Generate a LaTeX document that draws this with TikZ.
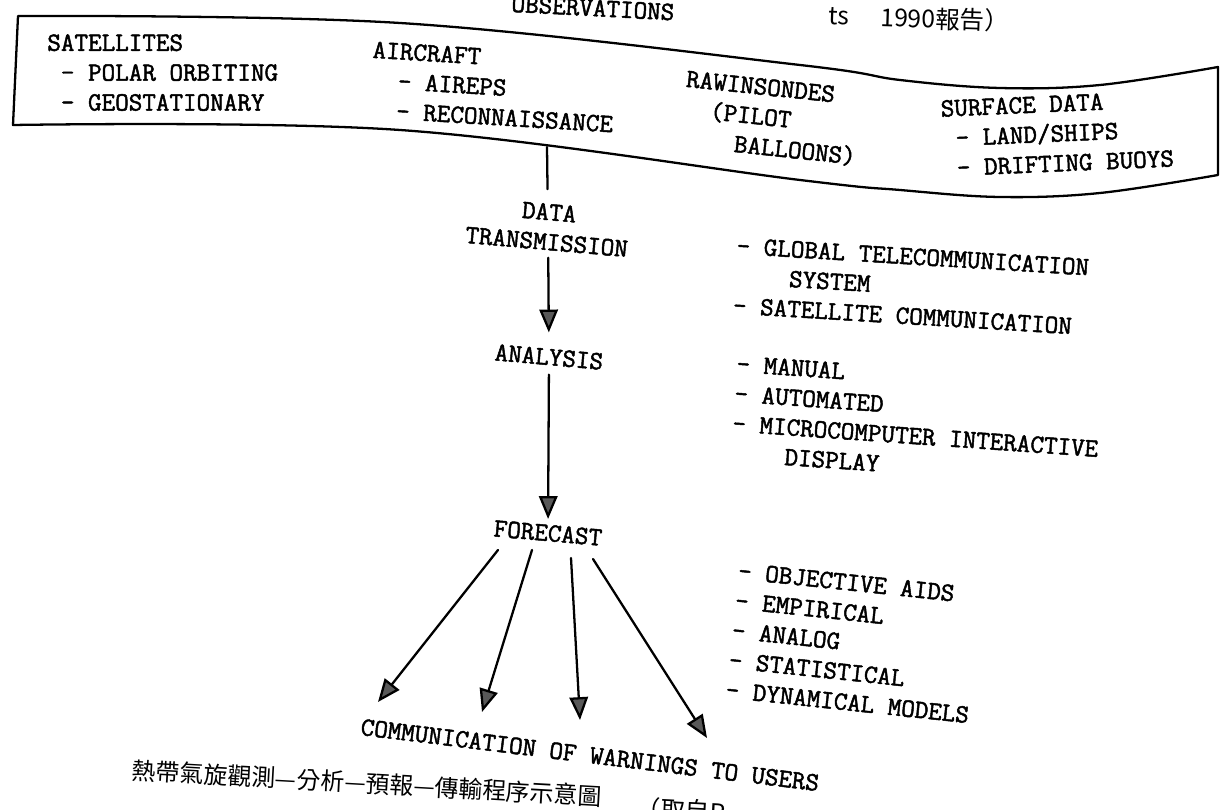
\documentclass[tikz,border=0pt]{standalone}
\usepackage{fontspec}
\newfontfamily\cjk{Noto Sans CJK TC}
\newfontfamily\typew{Latin Modern Mono}[FakeBold=1.8]
\usetikzlibrary{arrows.meta}
\newcommand\indentch{\phantom{0}}

\begin{document}
\begin{tikzpicture}[x=0.02cm,y=-0.02cm,line cap=round,line join=round,
  txt/.style={font=\fontsize{15}{17}\selectfont\typew,inner sep=0pt},
  group/.style={txt,align=left,anchor=north west},
  stage/.style={txt,align=center,rotate=-5},
  flow/.style={line width=1.3pt,-{Triangle[length=13pt,width=10.5pt,fill=black!65]}},
  cjktxt/.style={inner sep=0pt,anchor=west}]
  \useasboundingbox (0,0) rectangle (1220,810);
  \clip (0,0) rectangle (1220,810);
  \draw[line width=1.3pt] (18,16)
    -- plot[smooth,tension=0.6] coordinates {(13,125) (400,130) (800,180) (900,190) (1000,197) (1100,193) (1218,175)}
    -- plot[smooth,tension=0.6] coordinates {(1218,67) (1100,85) (1000,88) (900,80) (800,65) (400,23) (18,16)}
    -- cycle;
  \coordinate (boxlink) at (547,147);
  \node[txt,rotate=-3] (obs) at (593,8) {OBSERVATIONS};
  \node[cjktxt,rotate=-2,font=\fontsize{14}{16}\selectfont\cjk] (src) at (828,15) {ts\hspace{1.3em}1990報告）};
  \node[group] (sat) at (47,34) {SATELLITES\\\indentch- POLAR ORBITING\\\indentch- GEOSTATIONARY};
  \node[group,rotate=-3.5] (air) at (373,41) {AIRCRAFT\\\indentch\indentch- AIREPS\\\indentch\indentch- RECONNAISSANCE};
  \node[group,rotate=-6] (raw) at (687,70) {RAWINSONDES\\\indentch\indentch(PILOT\\\indentch\indentch\indentch\indentch BALLOONS)};
  \node[group,rotate=2.5] (surf) at (940,100) {SURFACE DATA\\\indentch- LAND/SHIPS\\\indentch- DRIFTING BUOYS};
  \node[stage] (trans) at (548,227) {DATA\\TRANSMISSION};
  \node[stage] (anal) at (549,357) {ANALYSIS};
  \node[stage] (fore) at (548,533) {FORECAST};
  \node[group,rotate=-3.5] (means) at (737,237) {- GLOBAL TELECOMMUNICATION\\\indentch\indentch\indentch\indentch SYSTEM\\- SATELLITE COMMUNICATION};
  \node[group,rotate=-4] (modes) at (737,355) {- MANUAL\\- AUTOMATED\\- MICROCOMPUTER INTERACTIVE\\\indentch\indentch\indentch\indentch DISPLAY};
  \node[group,rotate=-6] (aids) at (739,562) {- OBJECTIVE AIDS\\- EMPIRICAL\\- ANALOG\\- STATISTICAL\\- DYNAMICAL MODELS};
  \node[txt,rotate=-7] (comm) at (590,755) {COMMUNICATION OF WARNINGS TO USERS};
  \node[cjktxt,rotate=-3.2,font=\fontsize{13.6}{16}\selectfont\cjk] (cap) at (132,770) {熱帶氣旋觀測—分析—預報—傳輸程序示意圖};
  \node[cjktxt,rotate=-3,font=\fontsize{14}{16}\selectfont\cjk] (capsrc) at (636,808) {（取自R};
  \draw[line width=1.3pt,shorten >=8pt] (boxlink) -- (trans);
  \draw[flow,shorten <=4pt,shorten >=9pt] (trans) -- (anal);
  \draw[flow,shorten <=5pt,shorten >=3pt] (anal) -- (fore);
  \foreach \i/\sx/\sy/\tx/\ty in {1/498/550/378/702,2/532/550/482/712,3/571/558/580/720,4/593/559/707/738} {
    \coordinate (f\i) at (\sx,\sy);
    \coordinate (u\i) at (\tx,\ty);
    \draw[flow] (f\i) -- (u\i);
  }
\end{tikzpicture}
\end{document}
